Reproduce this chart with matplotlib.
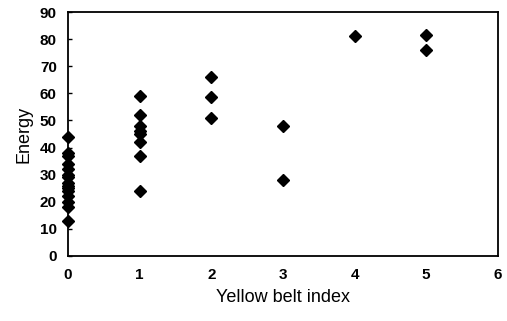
import matplotlib.pyplot as plt

plt.rcParams['font.family'] = ['Liberation Sans', 'DejaVu Sans']

# yellow belt index vs energy
belt_index = [0] * 15 + [1] * 8 + [2] * 3 + [3] * 2 + [4] + [5] * 2
energy = [44, 38, 37, 34, 32, 30, 29, 27, 26, 25, 24, 22, 20, 18, 13,
          59, 52, 48, 46, 45, 42, 37, 24,
          66, 58.5, 51,
          48, 28,
          81,
          81.5, 76]

x_ticks = [0, 1, 2, 3, 4, 5, 6]
y_ticks = [0, 10, 20, 30, 40, 50, 60, 70, 80, 90]

fig = plt.figure(figsize=(5.07, 3.21), dpi=100)
ax = fig.add_axes([0.134, 0.2025, 0.848, 0.76])
ax.plot(belt_index, energy, linestyle='none', marker='D', markersize=6.5,
        color='black', clip_on=False, zorder=3)

ax.set_xlim(0, 6)
ax.set_ylim(0, 90)
ax.set_xticks(x_ticks)
ax.set_yticks(y_ticks)
ax.tick_params(axis='y', direction='in', length=3, width=1, pad=8, labelsize=11)
ax.tick_params(axis='x', length=0, pad=9, labelsize=11)
for lab in ax.get_xticklabels() + ax.get_yticklabels():
    lab.set_fontweight('bold')
for sp in ax.spines.values():
    sp.set_linewidth(1.3)

ax.set_xlabel('Yellow belt index', fontsize=13, labelpad=5)
ax.set_ylabel('Energy', fontsize=13, labelpad=5)

fig.savefig('out.png', dpi=100)
